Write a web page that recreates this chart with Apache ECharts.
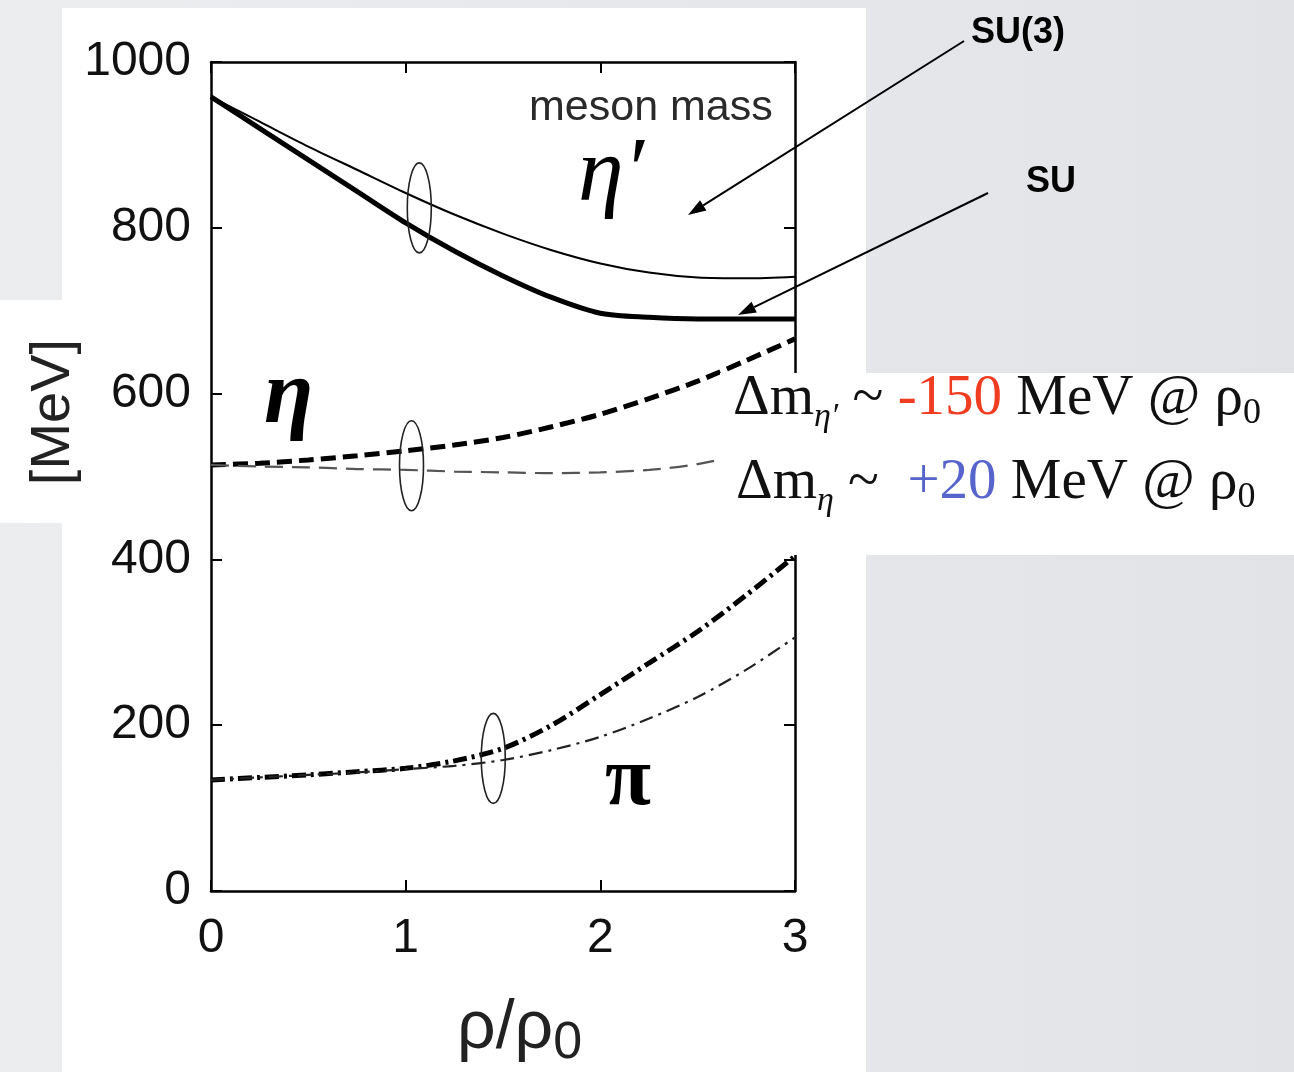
<!DOCTYPE html>
<html>
<head>
<meta charset="utf-8">
<script src="https://cdn.jsdelivr.net/npm/echarts@6/dist/echarts.min.js"></script>
<style>
  html, body { margin: 0; padding: 0; }
  body { width: 1294px; height: 1072px; background: linear-gradient(to right, #ecedef, #e1e3e7); position: relative; overflow: hidden; }
  #main { position: absolute; left: 0; top: 0; width: 1294px; height: 1072px; }
</style>
</head>
<body>
<div id="main"></div>
<script type="text/javascript">
  // density steps rho/rho0
  var xs = [0, 0.25, 0.5, 0.75, 1.0, 1.25, 1.5, 1.75, 2.0, 2.25, 2.5, 2.75, 3.0];

  // eta' mass
  var etaPrimeSU  = [958, 920, 882, 844, 806, 772, 742, 716, 697, 692, 690, 690, 690];
  var etaPrimeSU3 = [958, 928, 898, 870, 842, 816, 793, 773, 757, 746, 740, 739, 741];
  // eta mass
  var etaSU  = [514, 516, 520, 525, 531, 538, 547, 560, 575, 594, 615, 640, 666];
  var etaSU3 = [514, 512, 511, 509, 508, 506, 505, 504, 505, 508, 515, 528, 545];
  // pion mass
  var piSU  = [134, 137, 140, 144, 148, 157, 172, 200, 237, 275, 313, 357, 404];
  var piSU3 = [134, 137, 140, 143, 147, 151, 158, 170, 186, 208, 234, 267, 306];

  // rings that group each pair of curves
  var rings = [[1.07, 824], [1.03, 513], [1.45, 160]];

  var xTicks = [0, 1, 2, 3];
  var yTicks = [0, 200, 400, 600, 800, 1000];

  function pairs(ys) {
    return xs.map(function (x, i) { return [x, ys[i]]; });
  }

  var myChart = echarts.init(document.getElementById('main'));

  var sans = '"Liberation Sans", Arial, Helvetica, sans-serif';
  var serif = '"Liberation Serif", "Times New Roman", serif';

  function line(name, ys, width, type, color) {
    return {
      name: name,
      type: 'line',
      xAxisIndex: 0,
      yAxisIndex: 0,
      showSymbol: false,
      smooth: 0.3,
      data: pairs(ys),
      lineStyle: { color: color || '#000', width: width, type: type },
      z: 3
    };
  }

  function arrow(x1, y1, x2, y2) {
    var ang = Math.atan2(y2 - y1, x2 - x1);
    var len = 18, half = 6;
    var bx = x2 - len * Math.cos(ang), by = y2 - len * Math.sin(ang);
    var nx = -Math.sin(ang), ny = Math.cos(ang);
    return [
      { type: 'line', z: 120, shape: { x1: x1, y1: y1, x2: bx, y2: by }, style: { stroke: '#000', lineWidth: 2 } },
      { type: 'polygon', z: 120, shape: { points: [[x2, y2], [bx + nx * half, by + ny * half], [bx - nx * half, by - ny * half]] }, style: { fill: '#000' } }
    ];
  }

  var deltaRich = {
    n: { fontFamily: serif, fontSize: 57, fill: '#111', lineHeight: 74 },
    s: { fontFamily: serif, fontSize: 34, fontStyle: 'italic', fill: '#111', lineHeight: 38, padding: [36, 0, 0, 0] },
    r: { fontFamily: serif, fontSize: 57, fill: '#f03c20', lineHeight: 74 },
    b: { fontFamily: serif, fontSize: 57, fill: '#5664cc', lineHeight: 74 },
    z: { fontFamily: serif, fontSize: 36, fill: '#111', lineHeight: 40, padding: [30, 0, 0, 0] }
  };

  var graphics = [
    // white panels
    { type: 'rect', z: -10, shape: { x: 62, y: 8, width: 804, height: 1070 }, style: { fill: '#fff' } },
    { type: 'rect', z: -10, shape: { x: 0, y: 300, width: 62, height: 223 }, style: { fill: '#fff' } },
    // text box that sits over the plot
    { type: 'rect', z: 100, shape: { x: 720, y: 373, width: 574, height: 182 }, style: { fill: '#fff' } },
    { type: 'text', z: 110, left: 733, top: 364, style: { text: '{n|Δm}{s|η′}{n| ~ }{r|-150}{n| MeV @ ρ}{z|0}', rich: deltaRich } },
    { type: 'text', z: 110, left: 736, top: 448, style: { text: '{n|Δm}{s|η}{n| ~  }{b|+20}{n| MeV @ ρ}{z|0}', rich: deltaRich } },
    // labels inside the plot
    { type: 'text', z: 50, left: 529, top: 87, style: { text: 'meson mass', fontFamily: sans, fontSize: 43, fill: '#2a2a2a' } },
    { type: 'text', z: 50, left: 578, top: 130, style: { text: 'η′', fontFamily: serif, fontStyle: 'italic', fontSize: 92, fill: '#000' } },
    { type: 'text', z: 50, left: 264, top: 354, style: { text: 'η', fontFamily: serif, fontStyle: 'italic', fontWeight: 'bold', fontSize: 90, fill: '#000' } },
    { type: 'text', z: 50, left: 605, top: 740, style: { text: 'π', fontFamily: serif, fontWeight: 'bold', fontSize: 84, fill: '#000' } },
    // axis titles
    { type: 'text', z: 50, left: 457, top: 988, style: { text: '{a|ρ/ρ}{b|0}', rich: {
      a: { fontFamily: sans, fontSize: 68, fill: '#222', lineHeight: 74 },
      b: { fontFamily: sans, fontSize: 52, fill: '#222', lineHeight: 56, padding: [30, 0, 0, 0] }
    } } },
    { type: 'text', z: 50, x: 54, y: 412, rotation: Math.PI / 2, style: { text: '[MeV]', fontFamily: sans, fontSize: 56, fill: '#222', align: 'center', verticalAlign: 'middle' } },
    // SU annotations
    { type: 'text', z: 120, left: 971, top: 15, style: { text: 'SU(3)', fontFamily: sans, fontWeight: 'bold', fontSize: 36, fill: '#000' } },
    { type: 'text', z: 120, left: 1026, top: 164, style: { text: 'SU', fontFamily: sans, fontWeight: 'bold', fontSize: 36, fill: '#000' } }
  ].concat(arrow(964, 41, 688, 215)).concat(arrow(988, 193, 738, 315));

  var option = {
    backgroundColor: 'transparent',
    animation: false,
    grid: { left: 211, right: 499, top: 62, bottom: 181, show: false },
    xAxis: [{
      type: 'value', min: 0, max: 3, interval: 1, position: 'bottom',
      axisLine: { show: true, onZero: false, lineStyle: { color: '#000', width: 2.5 } },
      axisTick: { show: true, inside: true, length: 11, lineStyle: { color: '#000', width: 2 } },
      axisLabel: { color: '#111', fontFamily: sans, fontSize: 48, margin: 24,
        formatter: function (v) { return xTicks.indexOf(v) >= 0 ? String(v) : ''; } },
      splitLine: { show: false }
    }, {
      type: 'value', min: 0, max: 3, interval: 1, position: 'top',
      axisLine: { show: true, onZero: false, lineStyle: { color: '#000', width: 2.5 } },
      axisTick: { show: true, inside: true, length: 11, lineStyle: { color: '#000', width: 2 } },
      axisLabel: { show: false },
      splitLine: { show: false }
    }],
    yAxis: [{
      type: 'value', min: 0, max: 1000, interval: 200, position: 'left',
      axisLine: { show: true, onZero: false, lineStyle: { color: '#000', width: 2.5 } },
      axisTick: { show: true, inside: true, length: 11, lineStyle: { color: '#000', width: 2 } },
      axisLabel: { color: '#111', fontFamily: sans, fontSize: 48, margin: 20,
        formatter: function (v) { return yTicks.indexOf(v) >= 0 ? String(v) : ''; } },
      splitLine: { show: false }
    }, {
      type: 'value', min: 0, max: 1000, interval: 200, position: 'right',
      axisLine: { show: true, onZero: false, lineStyle: { color: '#000', width: 2.5 } },
      axisTick: { show: true, inside: true, length: 11, lineStyle: { color: '#000', width: 2 } },
      axisLabel: { show: false },
      splitLine: { show: false }
    }],
    series: [
      line("η' SU", etaPrimeSU, 5, 'solid'),
      line("η' SU(3)", etaPrimeSU3, 2, 'solid'),
      line('η SU', etaSU, 5, [15, 7]),
      line('η SU(3)', etaSU3, 2.2, [18, 9], '#555'),
      line('π SU', piSU, 5, [14, 5, 3, 5]),
      line('π SU(3)', piSU3, 2.2, [14, 6, 3, 6], '#222')
    ],
    graphic: graphics
  };

  myChart.setOption(option);

  // rings placed from data coordinates
  var ringEls = rings.map(function (r) {
    var p = myChart.convertToPixel({ gridIndex: 0 }, r);
    return { type: 'ellipse', z: 60, shape: { cx: p[0], cy: p[1], rx: 12, ry: 45 },
      style: { fill: 'none', stroke: '#222', lineWidth: 1.6 } };
  });
  myChart.setOption({ graphic: graphics.concat(ringEls) });
</script>
</body>
</html>
